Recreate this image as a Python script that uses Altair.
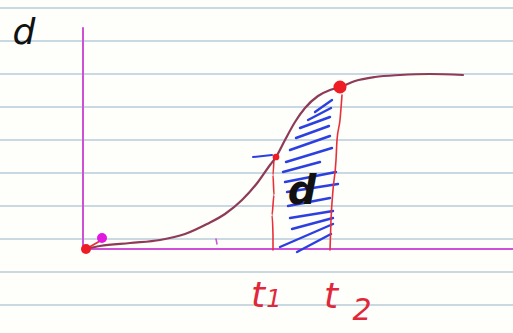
import altair as alt
import pandas as pd

W, H = 513, 333

# ruled notebook lines (page rows)
rule_rows = [8, 41, 74, 107, 140, 173, 206, 239, 272, 305]

# sketched S-curve d(t)
curve_x = [85, 100, 130, 160, 185, 207, 225, 242, 258, 270, 276, 285, 295, 305, 318, 330, 340, 355, 375, 400, 430, 463]
curve_y = [249, 246, 243, 240, 234, 224, 214, 200, 182, 165, 157, 140, 122, 108, 96, 90, 87, 81, 77, 75, 74, 75]

# axes (magenta)
axis_x1 = [83, 83]
axis_y1 = [28, 249]
axis_x2 = [83, 513]
axis_y2 = [249, 249]

# vertical markers at t1 and t2
t1_x = [274, 273, 274, 272, 273, 273]
t1_y = [157, 175, 195, 215, 235, 250]
t2_x = [342, 340, 337, 336, 333, 331, 330]
t2_y = [95, 120, 140, 160, 190, 220, 250]

# hatching strokes inside the shaded band
hatch_x1 = [315, 308, 300, 296, 290, 286, 283, 285, 287, 288, 290, 292, 280, 297]
hatch_y1 = [112, 120, 128, 138, 150, 162, 172, 182, 192, 206, 218, 229, 247, 252]
hatch_x2 = [332, 331, 330, 329, 330, 332, 320, 336, 338, 330, 333, 333, 333, 331]
hatch_y2 = [100, 108, 117, 126, 136, 148, 162, 172, 184, 198, 211, 218, 224, 234]

# dots
red_dot_x = [86, 340, 276]
red_dot_y = [249, 87, 157]
red_dot_size = [100, 170, 45]

# labels: axis name, area name (black) and time marks (red)
axis_label = {"x": 24, "y": 33, "t": "d", "s": 36}
area_label = {"x": 302, "y": 192, "t": "d", "s": 40}

time_x = [258, 274, 331, 362]
time_y = [296, 300, 297, 311]
time_text = ["t", "1", "t", "2"]
time_size = [36, 24, 36, 30]

xs = alt.Scale(domain=[0, W])
ys = alt.Scale(domain=[0, H], reverse=True)


def X(f):
    return alt.X(f, type="quantitative", scale=xs, axis=None)


def Y(f):
    return alt.Y(f, type="quantitative", scale=ys, axis=None)


paper = alt.Chart(pd.DataFrame({"y": rule_rows})).mark_rule(
    color="#b9ccd8", strokeWidth=1.4
).encode(y=Y("y"), x=alt.value(0), x2=alt.value(W))


def path(xv, yv, color, width, interp="linear"):
    df = pd.DataFrame({"x": xv, "y": yv, "i": range(len(xv))})
    return alt.Chart(df).mark_line(
        color=color, strokeWidth=width, interpolate=interp, strokeCap="round"
    ).encode(x=X("x"), y=Y("y"), order="i:Q")


def segment(x1, y1, x2, y2, color, width):
    df = pd.DataFrame({"x1": x1, "y1": y1, "x2": x2, "y2": y2})
    return alt.Chart(df).mark_rule(color=color, strokeWidth=width, strokeCap="round").encode(
        x=X("x1"), y=Y("y1"), x2="x2", y2="y2"
    )


axis_v = path(axis_x1, axis_y1, "#cf4fd6", 2)
axis_h = path(axis_x2, axis_y2, "#cf4fd6", 2)
curve = path(curve_x, curve_y, "#8e3b57", 2.2, "monotone")
t1_line = path(t1_x, t1_y, "#e8303a", 1.6, "monotone")
t2_line = path(t2_x, t2_y, "#e8303a", 1.6, "monotone")

hatch = segment(hatch_x1, hatch_y1, hatch_x2, hatch_y2, "#2c3fe0", 2.4)
t1_tick = segment([253], [157], [272], [155], "#2c3fe0", 2)
start_link = segment([86], [249], [100], [241], "#e8303a", 2)
small_tick = segment([216], [239], [217], [244], "#cf4fd6", 1.5)

red_dots = alt.Chart(pd.DataFrame({"x": red_dot_x, "y": red_dot_y, "s": red_dot_size})).mark_circle(
    color="#ee1c24", opacity=1
).encode(x=X("x"), y=Y("y"), size=alt.Size("s:Q", scale=None, legend=None))

pink_dot = alt.Chart(pd.DataFrame({"x": [102], "y": [238]})).mark_circle(
    color="#e018e0", opacity=1, size=100
).encode(x=X("x"), y=Y("y"))


def labels(xv, yv, tv, sv, color, weight):
    df = pd.DataFrame({"x": xv, "y": yv, "t": tv, "s": sv})
    return alt.Chart(df).mark_text(
        font="DejaVu Sans", fontStyle="italic", fontWeight=weight,
        align="center", baseline="middle", color=color,
    ).encode(
        x=X("x"), y=Y("y"), text="t:N",
        size=alt.Size("s:Q", scale=None, legend=None),
    )


axis_name = labels([axis_label["x"]], [axis_label["y"]], [axis_label["t"]], [axis_label["s"]], "#111111", 300)
area_name = labels([area_label["x"]], [area_label["y"]], [area_label["t"]], [area_label["s"]], "#111111", 600)
time_labels = labels(time_x, time_y, time_text, time_size, "#e0283a", 300)

chart = alt.layer(
    paper, axis_v, axis_h, hatch, t1_line, t2_line, curve, t1_tick,
    start_link, small_tick, red_dots, pink_dot, axis_name, area_name, time_labels
).properties(
    width=W, height=H, background="#fefefb", padding=0,
    autosize=alt.AutoSizeParams(type="none"),
).configure_view(stroke=None)

chart.save("out.html", embed_options={"renderer": "svg", "actions": False})
